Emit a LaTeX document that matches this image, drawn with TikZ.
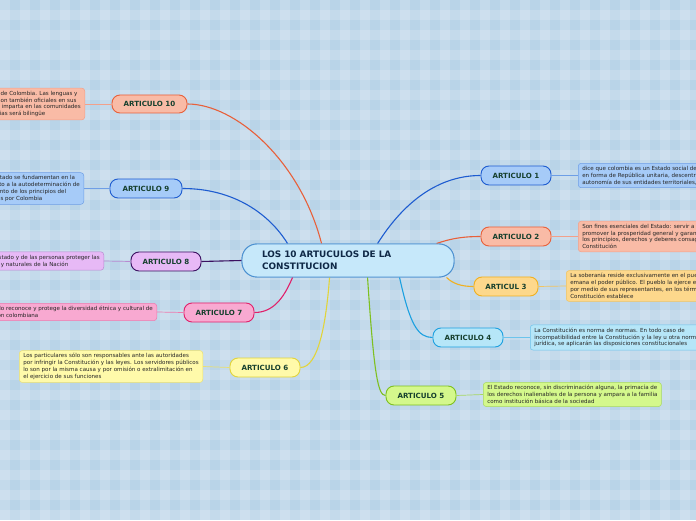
\documentclass[tikz,border=0pt]{standalone}
\usepackage{fontspec}
\setmainfont{DejaVu Sans}
\usetikzlibrary{calc}
\definecolor{bgc}{HTML}{B9D4E8}
\definecolor{arttxt}{HTML}{16402E}
\definecolor{ctxt}{HTML}{0F2846}
\definecolor{cfill}{HTML}{C6E8FA}
\definecolor{cdraw}{HTML}{4A8FD0}
\definecolor{salf}{HTML}{F9BBA6}\definecolor{sald}{HTML}{E8603A}\definecolor{salt}{HTML}{F2A08A}
\definecolor{bluf}{HTML}{A6CBF8}\definecolor{blud}{HTML}{1E5CD0}\definecolor{blut}{HTML}{6E9EE6}
\definecolor{vf}{HTML}{E7B9F6}\definecolor{vd}{HTML}{3A1060}\definecolor{vt}{HTML}{B88AD0}
\definecolor{pkf}{HTML}{F8A9D1}\definecolor{pkd}{HTML}{E0206A}\definecolor{pkt}{HTML}{EE7AAE}
\definecolor{yf}{HTML}{FFFAAA}\definecolor{yd}{HTML}{E2D43A}\definecolor{yt}{HTML}{EAE070}
\definecolor{of}{HTML}{FDD88C}\definecolor{od}{HTML}{F0B020}\definecolor{ot}{HTML}{F2C460}
\definecolor{cyf}{HTML}{B6E6F8}\definecolor{cyd}{HTML}{1CA0E0}\definecolor{cyt}{HTML}{6CC4EC}
\definecolor{lf}{HTML}{D4F88C}\definecolor{ld}{HTML}{7EC020}\definecolor{lt}{HTML}{A8D860}
\tikzset{
  art/.style={draw, rounded corners=8pt, line width=0.9pt, text=arttxt,
    font=\bfseries\fontsize{7.1}{8}\selectfont, minimum height=19pt, inner sep=1pt},
  tbox/.style={draw, rounded corners=3pt, line width=0.5pt, text=black!85,
    font=\fontsize{5.55}{6.8}\selectfont, align=left, inner xsep=4pt, inner ysep=3pt},
  centre/.style={draw=cdraw, fill=cfill, rounded corners=15pt, line width=0.9pt,
    minimum width=212pt, minimum height=33pt, text width=172pt, align=left,
    text=ctxt, font=\bfseries\fontsize{8.9}{11.5}\selectfont},
  link/.style={line width=1.1pt},
  tlink/.style={line width=0.7pt}
}
\begin{document}
\begin{tikzpicture}[x=1pt,y=1pt]
\useasboundingbox (0,0) rectangle (696,520);
\clip (0,0) rectangle (696,520);
\fill[bgc] (0,0) rectangle (696,520);
\foreach \i in {0,20,...,700} {
  \fill[white,opacity=0.16] (\i,0) rectangle (\i+10,520);
}
\foreach \j in {0,20,...,520} {
  \fill[white,opacity=0.16] (0,\j) rectangle (696,\j+10);
}

% central node (placed first to be referenced)
\node[centre] (c) at (348,259.5) {LOS 10 ARTUCULOS DE LA\\CONSTITUCION};

% article nodes
\node[art, fill=salf, draw=sald, minimum width=75pt, minimum height=18pt] (a10) at (149.5,416) {ARTICULO 10};
\node[art, fill=bluf, draw=blud, minimum width=72pt] (a9) at (146,331.5) {ARTICULO 9};
\node[art, fill=vf, draw=vd, minimum width=70pt] (a8) at (166,258.5) {ARTICULO 8};
\node[art, fill=pkf, draw=pkd, minimum width=70pt] (a7) at (219,207.5) {ARTICULO 7};
\node[art, fill=yf, draw=yd, minimum width=70pt] (a6) at (265,152.5) {ARTICULO 6};
\node[art, fill=bluf, draw=blud, minimum width=70pt] (a1) at (516,344.5) {ARTICULO 1};
\node[art, fill=salf, draw=sald, minimum width=70pt] (a2) at (516,283.5) {ARTICULO 2};
\node[art, fill=of, draw=od, minimum width=64pt] (a3) at (506,233.5) {ARTICUL 3};
\node[art, fill=cyf, draw=cyd, minimum width=70pt] (a4) at (468,182.5) {ARTICULO 4};
\node[art, fill=lf, draw=ld, minimum width=70pt] (a5) at (421,124.5) {ARTICULO 5};

% text boxes
\node[tbox, fill=salf, draw=salt, anchor=east] (t10) at (85,416)
 {El castellano es el idioma oficial de Colombia. Las lenguas y\\
  dialectos de los grupos étnicos son también oficiales en sus\\
  territorios. La enseñanza que se imparta en las comunidades\\
  con tradiciones lingüísticas propias será bilingüe};
\node[tbox, fill=bluf, draw=blut, anchor=east] (t9) at (84,331.5)
 {Las relaciones exteriores del Estado se fundamentan en la\\
  soberanía nacional, en el respeto a la autodeterminación de\\
  los pueblos y en el reconocimiento de los principios del\\
  derecho internacional aceptados por Colombia};
\node[tbox, fill=vf, draw=vt, anchor=east] (t8) at (104,259)
 {Es obligación del Estado y de las personas proteger las\\
  riquezas culturales y naturales de la Nación};
\node[tbox, fill=pkf, draw=pkt, anchor=east] (t7) at (157,208)
 {El Estado reconoce y protege la diversidad étnica y cultural de\\
  la Nación colombiana};
\node[tbox, fill=yf, draw=yt, anchor=east] (t6) at (203,153.5)
 {Los particulares sólo son responsables ante las autoridades\\
  por infringir la Constitución y las leyes. Los servidores públicos\\
  lo son por la misma causa y por omisión o extralimitación en\\
  el ejercicio de sus funciones};
\node[tbox, fill=bluf, draw=blut, anchor=west] (t1) at (578,344.5)
 {dice que colombia es un Estado social de derecho, organizado\\
  en forma de República unitaria, descentralizada, con\\
  autonomía de sus entidades territoriales, democrática};
\node[tbox, fill=salf, draw=salt, anchor=west] (t2) at (578,283.5)
 {Son fines esenciales del Estado: servir a la comunidad,\\
  promover la prosperidad general y garantizar la efectividad de\\
  los principios, derechos y deberes consagrados en la\\
  Constitución};
\node[tbox, fill=of, draw=ot, anchor=west] (t3) at (566,234)
 {La soberanía reside exclusivamente en el pueblo, del cual\\
  emana el poder público. El pueblo la ejerce en forma directa o\\
  por medio de sus representantes, en los términos que la\\
  Constitución establece};
\node[tbox, fill=cyf, draw=cyt, anchor=west] (t4) at (530,182.5)
 {La Constitución es norma de normas. En todo caso de\\
  incompatibilidad entre la Constitución y la ley u otra norma\\
  jurídica, se aplicarán las disposiciones constitucionales};
\node[tbox, fill=lf, draw=lt, anchor=west] (t5) at (483,125.5)
 {El Estado reconoce, sin discriminación alguna, la primacía de\\
  los derechos inalienables de la persona y ampara a la familia\\
  como institución básica de la sociedad};

% article to text links
\draw[tlink, salt] (a10.west) -- (t10.east);
\draw[tlink, blut] (a9.west) -- (t9.east);
\draw[tlink, vt] (a8.west) -- (t8.east);
\draw[tlink, pkt] (a7.west) -- (t7.east);
\draw[tlink, yt] (a6.west) -- (t6.east);
\draw[tlink, blut] (a1.east) -- (t1.west);
\draw[tlink, salt] (a2.east) -- (t2.west);
\draw[tlink, ot] (a3.east) -- (t3.west);
\draw[tlink, cyt] (a4.east) -- (t4.west);
\draw[tlink, lt] (a5.east) -- (t5.west);

% centre links
\draw[link, sald] ($(c.north west)+(80,0)$) .. controls (300,360) and (235,416) .. (a10.east);
\draw[link, blud] ($(c.north west)+(46,0)$) .. controls (270,305) and (235,331.5) .. (a9.east);
\draw[link, vd] (c.west) -- (a8.east);
\draw[link, pkd] ($(c.south west)+(51,0)$) .. controls (285,225) and (275,207.5) .. (a7.east);
\draw[link, yd] ($(c.south west)+(88,0)$) .. controls (326,195) and (318,152.5) .. (a6.east);
\draw[link, blud] ($(c.north west)+(136,0)$) .. controls (405,320) and (440,344.5) .. (a1.west);
\draw[link, sald] ($(c.north west)+(195,0)$) .. controls (452,282) and (465,283.5) .. (a2.west);
\draw[link, od] ($(c.south west)+(205,0)$) .. controls (453,236) and (462,233.5) .. (a3.west);
\draw[link, cyd] ($(c.south west)+(158,0)$) .. controls (410,195) and (418,182.5) .. (a4.west);
\draw[link, ld] ($(c.south west)+(126,0)$) .. controls (374,145) and (378,124.5) .. (a5.west);

% centre redrawn on top of its links
\node[centre] (c2) at (c.center) {LOS 10 ARTUCULOS DE LA\\CONSTITUCION};
\end{tikzpicture}
\end{document}
